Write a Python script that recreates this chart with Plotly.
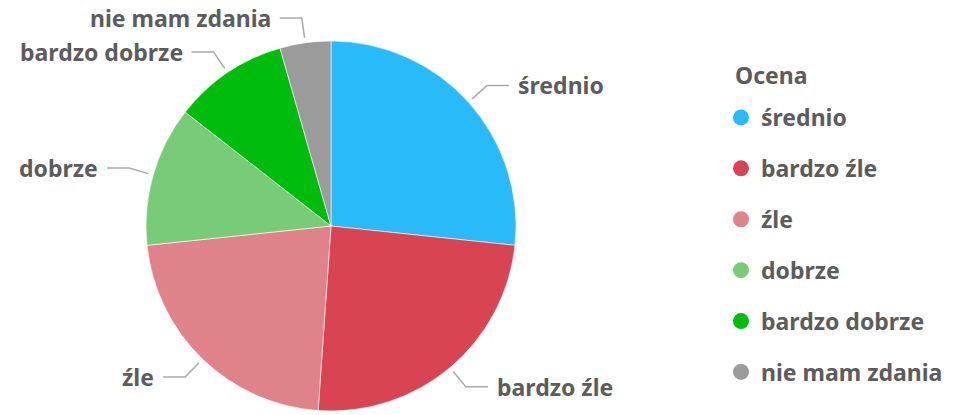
import math
import plotly.graph_objects as go

categories = ["średnio", "bardzo źle", "źle", "dobrze", "bardzo dobrze", "nie mam zdania"]
values = [24, 22, 20, 11, 9, 4]
colors = ["#29BAF9", "#D94452", "#E0828A", "#79CC77", "#00BD0D", "#9B9B9B"]
legend_title = "Ocena"

W, H = 971, 415
CX, CY, R = 331, 226, 185
TEXT = "#5c5c5c"
FONT = "Noto Sans"
FS = 23

fig = go.Figure()
fig.add_trace(go.Pie(
    labels=categories, values=values, sort=False, direction="clockwise", rotation=0,
    marker=dict(colors=colors, line=dict(color="white", width=0.6)),
    textinfo="none", hoverinfo="label+value+percent", showlegend=False,
    domain=dict(x=[(CX - R) / W, (CX + R) / W], y=[1 - (CY + R) / H, 1 - (CY - R) / H]),
))

for c, col in zip(categories, colors):
    fig.add_trace(go.Scatter(
        x=[None], y=[None], mode="markers", name=c, legendgroup=c,
        marker=dict(symbol="circle", size=20, color=col), hoverinfo="skip",
    ))

def px(x, y):
    return x / W, 1 - y / H

total = sum(values)
cum = 0
annotations = []
shapes = []
for c, v in zip(categories, values):
    mid = (cum + v / 2) / total * 2 * math.pi
    cum += v
    sx, sy = math.sin(mid), -math.cos(mid)
    x0, y0 = CX + (R + 5) * sx, CY + (R + 5) * sy
    x1, y1 = CX + (R + 25) * sx, CY + (R + 25) * sy
    right = sx >= 0
    x2 = x1 + (22 if right else -22)
    xt = x2 + (7 if right else -7)
    a, b = px(x0, y0); c1, d1 = px(x1, y1); e, f = px(x2, y1)
    path = f"M {a} {b} L {c1} {d1} L {e} {f}"
    shapes.append(dict(type="path", xref="paper", yref="paper", path=path,
                       line=dict(color="#aaaaaa", width=1.5)))
    tx, ty = px(xt, y1)
    annotations.append(dict(x=tx, y=ty, xref="paper", yref="paper", text=c, showarrow=False,
                            xanchor="left" if right else "right", yanchor="middle",
                            font=dict(family=FONT, size=FS, color=TEXT, weight="bold")))

tx, ty = px(733, 75)
annotations.append(dict(x=tx, y=ty, xref="paper", yref="paper", text=legend_title, showarrow=False,
                        xanchor="left", yanchor="middle",
                        font=dict(family=FONT, size=FS, color=TEXT, weight="bold")))

fig.update_layout(
    width=W, height=H, margin=dict(l=0, r=0, t=0, b=0),
    paper_bgcolor="white", plot_bgcolor="white",
    xaxis=dict(visible=False), yaxis=dict(visible=False),
    annotations=annotations, shapes=shapes,
    legend=dict(
        x=721 / W, y=1 - 96 / H, xanchor="left", yanchor="top",
        font=dict(family=FONT, size=FS, color=TEXT, weight="bold"),
        tracegroupgap=18, traceorder="grouped", itemclick=False, itemdoubleclick=False,
    ),
)

fig.write_html("out.html", config={"displayModeBar": False},
               post_script="document.body.style.margin='0';document.body.style.padding='0';")
